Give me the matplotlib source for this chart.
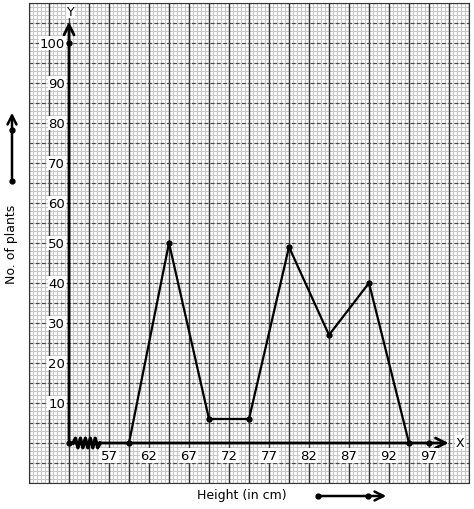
import numpy as np
import matplotlib.pyplot as plt

# frequency polygon data (class marks vs number of plants)
heights = [59.5, 64.5, 69.5, 74.5, 79.5, 84.5, 89.5, 94.5]
plants = [0, 50, 6, 6, 49, 27, 40, 0]
x_ticks = [57, 62, 67, 72, 77, 82, 87, 92, 97]
y_ticks = [10, 20, 30, 40, 50, 60, 70, 80, 90, 100]
x0 = 52  # where the kinked x axis starts

fig = plt.figure(figsize=(4.74, 5.10), dpi=100)
ax = fig.add_axes([29 / 474, 26 / 510, 440 / 474, 480 / 510])
ax.set_xlim(47, 102)
ax.set_ylim(-10, 110)

# graph paper
for v in np.arange(47, 102.01, 0.5):
    ax.axvline(v, color='#c8c8c8', lw=0.8, zorder=0)
for v in np.arange(-10, 110.01, 1):
    ax.axhline(v, color='#c8c8c8', lw=0.8, zorder=0)
for v in np.arange(47, 102.01, 2.5):
    ax.axvline(v, color='#333333', lw=1.0, zorder=1)
for v in np.arange(-10, 110.01, 5):
    ax.axhline(v, color='#4a4a4a', lw=0.9, ls=(0, (3, 2)), zorder=1)
ax.set_xticks([])
ax.set_yticks([])
for s in ax.spines.values():
    s.set_color('#333333')

# axes with arrows
ax.annotate('', xy=(x0, 106), xytext=(x0, 0),
            arrowprops=dict(arrowstyle='->', lw=2, color='black', mutation_scale=18), zorder=5)
ax.annotate('', xy=(99.8, 0), xytext=(x0, 0),
            arrowprops=dict(arrowstyle='->', lw=2, color='black', mutation_scale=18), zorder=5)
ax.text(x0 + 0.2, 108.0, 'Y', ha='center', va='center', fontsize=9,
        bbox=dict(fc='white', ec='none', pad=0.5), zorder=6)
ax.text(100.9, 0.2, 'X', ha='center', va='center', fontsize=9,
        bbox=dict(fc='white', ec='none', pad=0.5), zorder=6)

# kink on x axis
zx = np.linspace(x0 + 0.5, x0 + 3.9, 12)
zy = np.array([0] + [1.2, -1.2] * 5 + [0])
ax.plot(zx, zy, color='black', lw=2.4, zorder=6)

ax.plot([x0, x0, 97], [0, 100, 0], 'o', color='black', ms=3.5, zorder=7)

for t in x_ticks:
    ax.text(t, -3.2, str(t), ha='center', va='center', fontsize=9.5,
            bbox=dict(fc='white', ec='none', pad=0.8), zorder=6)
for t in y_ticks:
    ax.text(x0 - 0.5, t, str(t), ha='right', va='center', fontsize=9.5,
            bbox=dict(fc='white', ec='none', pad=0.5), zorder=6)

# the polygon
ax.plot(heights, plants, '-o', color='black', lw=1.6, ms=3.5, zorder=8)

# labels and direction arrows outside the graph
ov = fig.add_axes([0, 0, 1, 1], facecolor='none')
ov.set_xlim(0, 474)
ov.set_ylim(510, 0)
ov.axis('off')
ov.text(12, 244, 'No. of plants', rotation=90, ha='center', va='center', fontsize=9)
ov.text(242, 496, 'Height (in cm)', ha='center', va='center', fontsize=9)
ov.annotate('', xy=(12, 111), xytext=(12, 182),
            arrowprops=dict(arrowstyle='->', lw=1.8, color='black', mutation_scale=16))
ov.plot([12, 12], [182, 131], 'o', color='black', ms=3.5)
ov.annotate('', xy=(389, 497), xytext=(317, 497),
            arrowprops=dict(arrowstyle='->', lw=1.8, color='black', mutation_scale=16))
ov.plot([318, 368], [497, 497], 'o', color='black', ms=3.5)

fig.savefig('out.png', dpi=100)
